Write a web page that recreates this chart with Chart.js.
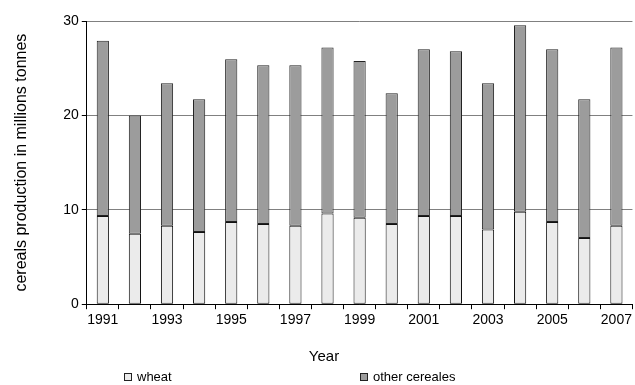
<!DOCTYPE html>
<html>
<head>
<meta charset="utf-8">
<script src="https://cdn.jsdelivr.net/npm/chart.js@4/dist/chart.umd.min.js"></script>
<style>
html,body{margin:0;padding:0;background:#fff;}
#wrap{width:635px;height:385px;position:relative;}
</style>
</head>
<body>
<div id="wrap"><canvas id="c" width="635" height="385"></canvas></div>
<script>
const years = ['1991','1992','1993','1994','1995','1996','1997','1998','1999','2000','2001','2002','2003','2004','2005','2006','2007'];
const wheat = [9.35, 7.45, 8.3, 7.65, 8.7, 8.5, 8.3, 9.6, 9.15, 8.5, 9.35, 9.35, 7.9, 9.8, 8.7, 7.0, 8.3];
const otherCereales = [18.55, 12.55, 15.1, 14.05, 17.25, 16.8, 17.0, 17.6, 16.6, 13.85, 17.65, 17.45, 15.5, 19.75, 18.3, 14.7, 18.9];
const yTicks = [0, 10, 20, 30];
const seriesNames = ['wheat', 'other cereales'];
const xTitle = 'Year';
const yTitle = 'cereals production in millions tonnes';

const FONT = 'Liberation Sans, Arial, sans-serif';
const colors = ['#ebebeb', '#9c9c9c'];

const extraText = {
  id: 'extraText',
  afterDraw(chart) {
    const ctx = chart.ctx;
    ctx.save();
    ctx.fillStyle = '#000';
    ctx.font = '15px ' + FONT;
    ctx.textAlign = 'center';
    ctx.textBaseline = 'middle';
    ctx.fillText(xTitle, 324, 357);
    ctx.font = '13px ' + FONT;
    ctx.textAlign = 'left';
    const legendX = [124, 360];
    chart.data.datasets.forEach((ds, i) => {
      const x = legendX[i];
      const y = 377;
      ctx.fillStyle = ds.backgroundColor;
      ctx.fillRect(x + 0.5, y - 3.5, 7, 7);
      ctx.strokeStyle = '#222';
      ctx.lineWidth = 1;
      ctx.strokeRect(x + 0.5, y - 3.5, 7, 7);
      ctx.fillStyle = '#000';
      ctx.fillText(ds.label, x + 13, y);
    });
    ctx.restore();
  }
};

new Chart(document.getElementById('c'), {
  type: 'bar',
  data: {
    labels: years,
    datasets: [
      { label: seriesNames[0], data: wheat, backgroundColor: colors[0], borderColor: '#111', borderWidth: 1, borderSkipped: false, barPercentage: 0.38, categoryPercentage: 1 },
      { label: seriesNames[1], data: otherCereales, backgroundColor: colors[1], borderColor: '#222', borderWidth: 1, borderSkipped: false, barPercentage: 0.38, categoryPercentage: 1 }
    ]
  },
  options: {
    responsive: false,
    animation: false,
    events: [],
    layout: { padding: { left: 8, right: 1, top: 21, bottom: 53 } },
    plugins: { legend: { display: false }, tooltip: { enabled: false } },
    scales: {
      x: {
        stacked: true,
        grid: { offset: true, drawOnChartArea: false, drawTicks: true, tickLength: 5, color: '#000', tickColor: '#000' },
        border: { color: '#000', width: 1 },
        ticks: {
          autoSkip: false, maxRotation: 0, minRotation: 0, padding: 3,
          color: '#000', font: { family: FONT, size: 14 },
          callback: function(v, i) { return i % 2 === 0 ? years[i] : ''; }
        }
      },
      y: {
        stacked: true,
        min: yTicks[0], max: yTicks[yTicks.length - 1],
        afterBuildTicks: (axis) => { axis.ticks = yTicks.map(v => ({ value: v })); },
        grid: {
          color: (c) => (c.tick && c.tick.value === 0) ? '#000' : '#808080',
          tickColor: '#000', tickLength: 5, lineWidth: 1
        },
        border: { color: '#000', width: 1 },
        ticks: { padding: 3, color: '#000', font: { family: FONT, size: 14 } },
        title: { display: true, text: yTitle, color: '#000', font: { family: FONT, size: 16 }, padding: { top: 4, bottom: 29 } }
      }
    }
  },
  plugins: [extraText]
});
</script>
</body>
</html>
